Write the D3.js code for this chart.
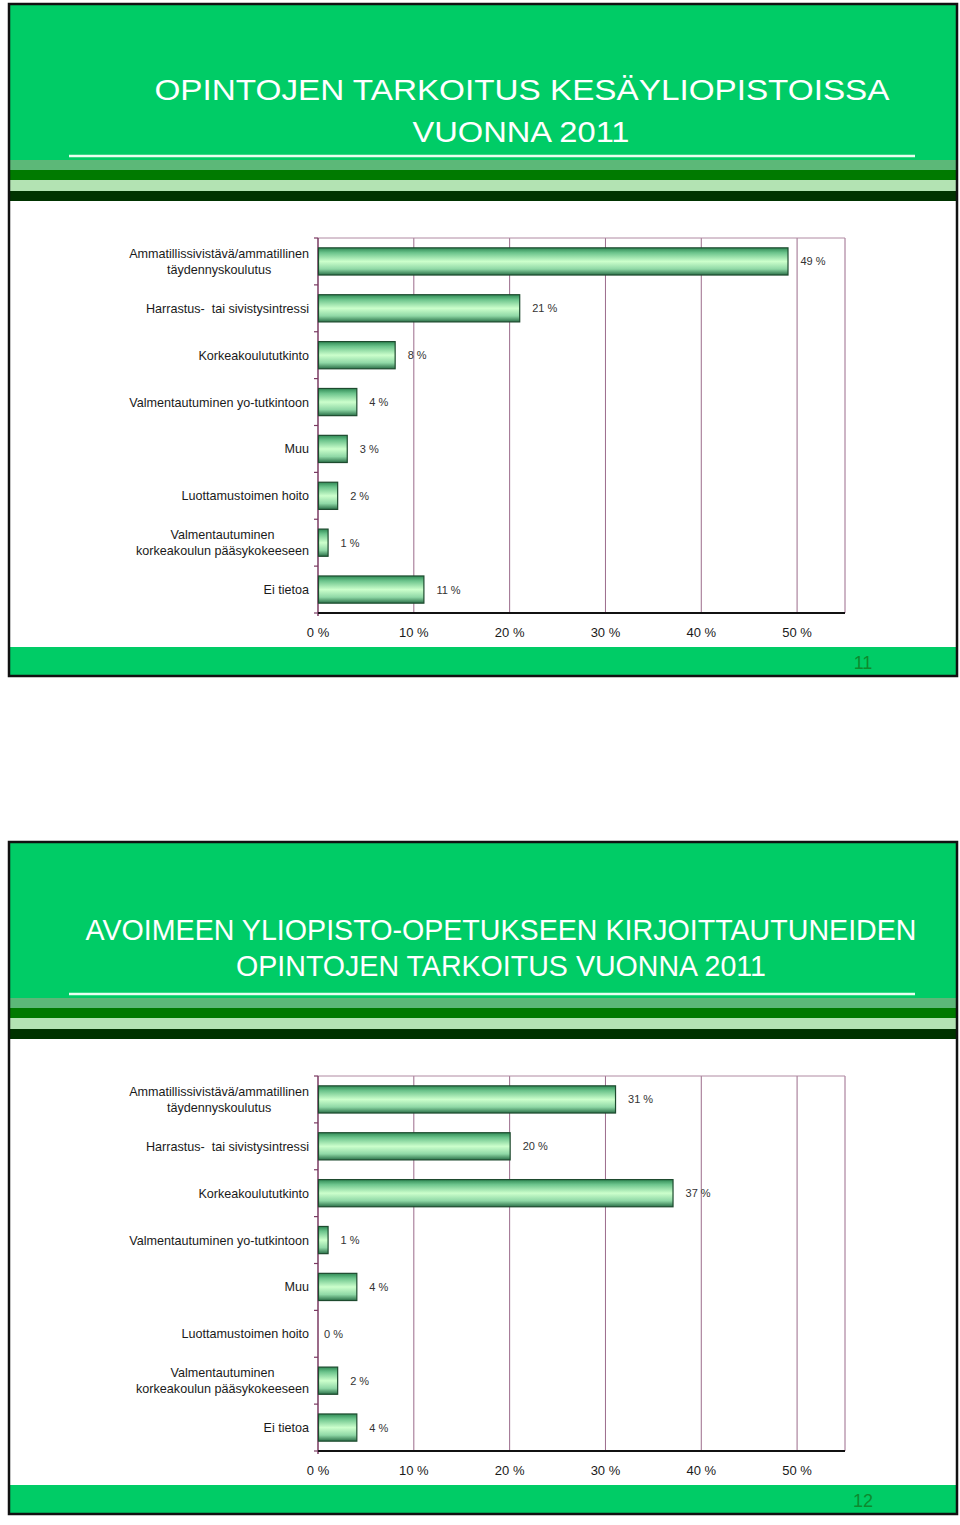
<!DOCTYPE html>
<html><head><meta charset="utf-8">
<script src="https://cdn.jsdelivr.net/npm/d3@7"></script>
<style>html,body{margin:0;padding:0;background:#fff;}svg{display:block;}</style>
</head><body>
<svg id="c" width="960" height="1525"></svg>
<script>
const categories = [
  "Ammatillissivistävä/ammatillinen\ntäydennyskoulutus",
  "Harrastus-  tai sivistysintressi",
  "Korkeakoulututkinto",
  "Valmentautuminen yo-tutkintoon",
  "Muu",
  "Luottamustoimen hoito",
  "Valmentautuminen\nkorkeakoulun pääsykokeeseen",
  "Ei tietoa"
];
const valuesKesayliopisto = [49, 21, 8, 4, 3, 2, 1, 11];
const valuesAvoin = [31, 20, 37, 1, 4, 0, 2, 4];
const xTicks = [0, 10, 20, 30, 40, 50];
const titleKesa = ["OPINTOJEN TARKOITUS KESÄYLIOPISTOISSA", "VUONNA 2011"];
const titleAvoin = ["AVOIMEEN YLIOPISTO-OPETUKSEEN KIRJOITTAUTUNEIDEN", "OPINTOJEN TARKOITUS VUONNA 2011"];
const pages = ["11", "12"];

const svg = d3.select("#c");
const defs = svg.append("defs");
const grad = defs.append("linearGradient").attr("id","barGrad").attr("x1",0).attr("y1",0).attr("x2",0).attr("y2",1);
[[0,"#2f8a55"],[0.18,"#6cc48c"],[0.5,"#ccffcc"],[0.78,"#8fd8a6"],[1,"#2a7048"]].forEach(([o,c])=>
  grad.append("stop").attr("offset",o).attr("stop-color",c));

const FONT = "'Liberation Sans', Arial, Helvetica, sans-serif";

function drawSlide(y0, title, titleSpec, values, page) {
  const g = svg.append("g").attr("transform", `translate(0,${y0})`);
  // header
  g.append("rect").attr("x",9).attr("y",1).attr("width",948).attr("height",157).attr("fill","#00cc66");
  g.append("rect").attr("x",9).attr("y",157).attr("width",948).attr("height",10).attr("fill","#5cb878");
  g.append("rect").attr("x",9).attr("y",167).attr("width",948).attr("height",10).attr("fill","#007a00");
  g.append("rect").attr("x",9).attr("y",177).attr("width",948).attr("height",11).attr("fill","#b3e3b3");
  g.append("rect").attr("x",9).attr("y",188).attr("width",948).attr("height",10).attr("fill","#003300");
  g.append("line").attr("x1",69).attr("x2",915).attr("y1",153).attr("y2",153)
    .attr("stroke","#e8fff0").attr("stroke-width",2.5);
  title.forEach((t,i)=>{
    const s = titleSpec[i];
    g.append("text").attr("x",s.cx).attr("y",s.y).attr("text-anchor","middle")
      .attr("font-family",FONT).attr("font-size",s.fs).attr("fill","#ffffff")
      .attr("textLength",s.w).attr("lengthAdjust","spacingAndGlyphs").text(t);
  });
  // footer
  g.append("rect").attr("x",9).attr("y",644).attr("width",948).attr("height",29).attr("fill","#00cc66");
  g.append("text").attr("x",863).attr("y",666).attr("text-anchor","middle")
    .attr("font-family",FONT).attr("font-size",18).attr("fill","#0e8a2e").text(page);
  // outer border
  g.append("rect").attr("x",9).attr("y",1).attr("width",948).attr("height",672)
    .attr("fill","none").attr("stroke","#111").attr("stroke-width",2.5);

  // chart
  const left = 318, right = 845, top = 235, bottom = 610;
  const x = d3.scaleLinear().domain([0,55]).range([left,right]);
  const y = d3.scaleBand().domain(categories).range([top,bottom]).paddingInner(0.42).paddingOuter(0.21);
  const step = y.step();
  // gridlines
  g.append("g").selectAll("line").data(xTicks.filter(d=>d>0)).join("line")
    .attr("x1",d=>x(d)).attr("x2",d=>x(d)).attr("y1",top).attr("y2",bottom)
    .attr("stroke","#9b6b8b").attr("stroke-width",1);
  g.append("line").attr("x1",right).attr("x2",right).attr("y1",top).attr("y2",bottom)
    .attr("stroke","#9b6b8b").attr("stroke-width",1);
  g.append("line").attr("x1",left).attr("x2",right).attr("y1",top).attr("y2",top)
    .attr("stroke","#b08aa2").attr("stroke-width",1);
  // y axis with ticks at band boundaries
  g.append("line").attr("x1",left).attr("x2",left).attr("y1",top).attr("y2",bottom+3)
    .attr("stroke","#7a3a62").attr("stroke-width",1.5);
  g.append("g").selectAll("line").data(d3.range(categories.length+1)).join("line")
    .attr("x1",left-4).attr("x2",left).attr("y1",i=>top+i*step).attr("y2",i=>top+i*step)
    .attr("stroke","#7a3a62").attr("stroke-width",1.2);
  // bars
  g.append("g").selectAll("rect").data(values.map((v,i)=>({v,c:categories[i]}))).join("rect")
    .filter(d=>d.v>0)
    .attr("x",x(0)+0.5).attr("y",d=>y(d.c)).attr("width",d=>x(d.v)-x(0)).attr("height",y.bandwidth())
    .attr("fill","url(#barGrad)").attr("stroke","#1d4a2e").attr("stroke-width",1.2);
  // value labels
  g.append("g").selectAll("text").data(values.map((v,i)=>({v,c:categories[i]}))).join("text")
    .attr("x",d=>x(d.v)+(d.v>0?13:6)).attr("y",d=>y(d.c)+y.bandwidth()/2+4)
    .attr("font-family",FONT).attr("font-size",11).attr("fill","#333").text(d=>d.v+" %");
  // category labels
  categories.forEach(c=>{
    const lines = c.split("\n");
    const cy = y(c)+y.bandwidth()/2;
    const t = g.append("text").attr("font-family",FONT).attr("font-size",12.6).attr("fill","#1a1a1a")
      .style("white-space","pre");
    if (lines.length===1) {
      t.attr("x",309).attr("y",cy+4.5).attr("text-anchor","end").text(c);
    } else {
      let w = 0;
      lines.forEach(l=>{
        const tmp = g.append("text").attr("font-family",FONT).attr("font-size",12.6).text(l);
        w = Math.max(w, tmp.node().getComputedTextLength());
        tmp.remove();
      });
      const cx = 309 - w/2;
      t.attr("text-anchor","middle");
      lines.forEach((l,i)=>{
        t.append("tspan").attr("x",cx).attr("y",cy+4.5+(i-(lines.length-1)/2)*15.5).text(l);
      });
    }
  });
  // x axis
  g.append("line").attr("x1",left).attr("x2",right).attr("y1",bottom).attr("y2",bottom)
    .attr("stroke","#111").attr("stroke-width",2);
  g.append("g").selectAll("text").data(xTicks).join("text")
    .attr("x",d=>x(d)).attr("y",bottom+24).attr("text-anchor","middle")
    .attr("font-family",FONT).attr("font-size",13).attr("fill","#1a1a1a").text(d=>d+" %");
}

drawSlide(3, titleKesa, [{cx:522,y:97,fs:30,w:735},{cx:521,y:139,fs:30,w:217}], valuesKesayliopisto, pages[0]);
drawSlide(841, titleAvoin, [{cx:501,y:99,fs:29,w:831},{cx:501,y:135,fs:29,w:530}], valuesAvoin, pages[1]);
</script>
</body></html>
